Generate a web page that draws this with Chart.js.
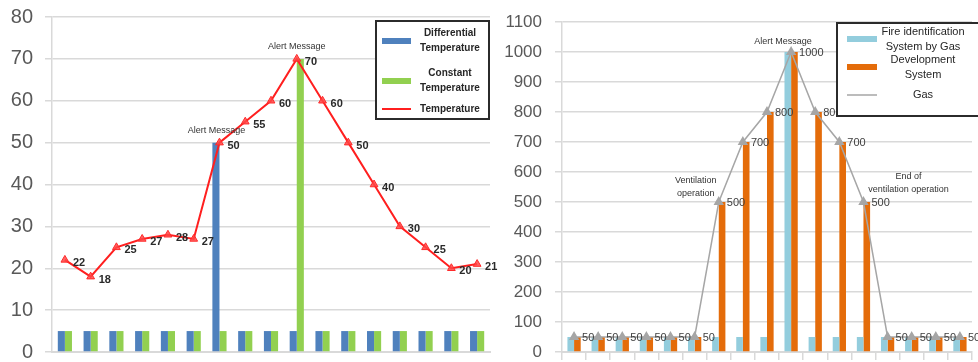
<!DOCTYPE html>
<html lang="en">
<head>
    <meta charset="UTF-8">
    <title>Temperature / Gas alert comparison</title>
    <script src="https://cdn.jsdelivr.net/npm/chart.js"></script>
    <style>
        body { margin: 0; background: #fff; }
        #wrap { display: flex; width: 978px; height: 362px; }
    </style>
</head>
<body>
<div id="wrap">
    <canvas id="tempChart" width="500" height="362"></canvas>
    <canvas id="gasChart" width="478" height="362"></canvas>
</div>
<script>
    // x categories (not labelled on the axes)
    var steps = ['1', '2', '3', '4', '5', '6', '7', '8', '9', '10', '11', '12', '13', '14', '15', '16', '17'];

    // left chart - temperature
    var differentialTemp = [5, 5, 5, 5, 5, 5, 50, 5, 5, 5, 5, 5, 5, 5, 5, 5, 5];
    var constantTemp = [5, 5, 5, 5, 5, 5, 5, 5, 5, 70, 5, 5, 5, 5, 5, 5, 5];
    var temperature = [22, 18, 25, 27, 28, 27, 50, 55, 60, 70, 60, 50, 40, 30, 25, 20, 21];
    var tempTicks = [0, 10, 20, 30, 40, 50, 60, 70, 80];
    var tempNotes = [
        { index: 6, text: ['Alert Message'] },
        { index: 9, text: ['Alert Message'] }
    ];
    var tempLegend = [
        { text: ['Differential', 'Temperature'], kind: 'bar' },
        { text: ['Constant', 'Temperature'], kind: 'bar' },
        { text: ['Temperature'], kind: 'line' }
    ];

    // right chart - gas
    var fireIdGas = [50, 50, 50, 50, 50, 50, 50, 50, 50, 1000, 50, 50, 50, 50, 50, 50, 50];
    var devSystem = [50, 50, 50, 50, 50, 50, 500, 700, 800, 1000, 800, 700, 500, 50, 50, 50, 50];
    var gas = [50, 50, 50, 50, 50, 50, 500, 700, 800, 1000, 800, 700, 500, 50, 50, 50, 50];
    var gasTicks = [0, 100, 200, 300, 400, 500, 600, 700, 800, 900, 1000, 1100];
    var gasNotes = [
        { index: 6, text: ['Ventilation', 'operation'] },
        { index: 9, text: ['Alert Message'] },
        { index: 12, text: ['End of', 'ventilation operation'] }
    ];
    var gasLegend = [
        { text: ['Fire identification', 'System by Gas'], kind: 'bar' },
        { text: ['Development', 'System'], kind: 'bar' },
        { text: ['Gas'], kind: 'line' }
    ];

    Chart.defaults.font.family = '"Liberation Sans", Arial, sans-serif';
    Chart.defaults.animation = false;

    var gridColor = '#d9d9d9';

    // value labels next to the line points + small notes above them
    function labelPlugin(opts) {
        return {
            id: 'pointLabels',
            afterDatasetsDraw: function(chart) {
                var ctx = chart.ctx;
                var meta = chart.getDatasetMeta(opts.lineIndex);
                var values = chart.data.datasets[opts.lineIndex].data;
                ctx.save();
                ctx.font = opts.labelFont;
                ctx.fillStyle = opts.labelColor;
                ctx.textAlign = 'left';
                ctx.textBaseline = 'middle';
                meta.data.forEach(function(pt, i) {
                    ctx.fillText(String(values[i]), pt.x + opts.labelDx, pt.y + opts.labelDy);
                });
                ctx.font = opts.noteFont;
                ctx.fillStyle = '#333';
                ctx.textAlign = 'center';
                opts.notes.forEach(function(note, n) {
                    var pt = meta.data[note.index];
                    var off = opts.noteOffsets[n];
                    note.text.forEach(function(line, k) {
                        ctx.fillText(line, pt.x + off[0], pt.y + off[1] + k * 12.5);
                    });
                });
                ctx.restore();
            }
        };
    }

    // boxed legend drawn inside the plot (like the spreadsheet original)
    function legendPlugin(opts) {
        return {
            id: 'boxLegend',
            afterDraw: function(chart) {
                var ctx = chart.ctx;
                var b = opts.box;
                ctx.save();
                ctx.fillStyle = '#fff';
                ctx.fillRect(b.x, b.y, b.w, b.h);
                ctx.strokeStyle = '#2b2b2b';
                ctx.lineWidth = 2;
                ctx.strokeRect(b.x, b.y, b.w, b.h);
                ctx.font = opts.font;
                ctx.textAlign = 'center';
                ctx.textBaseline = 'middle';
                opts.items.forEach(function(item, i) {
                    var cy = opts.rows[i];
                    var ds = chart.data.datasets[i];
                    if (item.kind === 'bar') {
                        ctx.fillStyle = ds.backgroundColor;
                        ctx.fillRect(opts.swatchX, cy - 3, opts.swatchW, 6);
                    } else {
                        ctx.strokeStyle = ds.borderColor;
                        ctx.lineWidth = ds.borderWidth;
                        ctx.beginPath();
                        ctx.moveTo(opts.swatchX, cy);
                        ctx.lineTo(opts.swatchX + opts.swatchW, cy);
                        ctx.stroke();
                    }
                    ctx.fillStyle = '#262626';
                    var h = (item.text.length - 1) * opts.lineGap;
                    item.text.forEach(function(line, k) {
                        ctx.fillText(line, opts.textX, cy - h / 2 + k * opts.lineGap);
                    });
                });
                ctx.restore();
            }
        };
    }

    // y axis with a fixed width and no extra label overflow padding
    function fixY(width) {
        return function(s) {
            s.width = width;
            s.paddingTop = 0;
            s.paddingBottom = 0;
        };
    }

    new Chart(document.getElementById('tempChart'), {
        type: 'bar',
        data: {
            labels: steps,
            datasets: [{
                label: 'Differential Temperature',
                data: differentialTemp,
                backgroundColor: '#4f81bd',
                categoryPercentage: 0.55,
                barPercentage: 1,
                order: 1
            }, {
                label: 'Constant Temperature',
                data: constantTemp,
                backgroundColor: '#92d050',
                categoryPercentage: 0.55,
                barPercentage: 1,
                order: 1
            }, {
                type: 'line',
                label: 'Temperature',
                data: temperature,
                borderColor: '#ff1f1f',
                borderWidth: 2,
                pointStyle: 'triangle',
                pointRadius: 4.5,
                pointBackgroundColor: 'rgba(255, 70, 70, 0.85)',
                pointBorderColor: '#ff2a2a',
                pointBorderWidth: 1,
                order: 0
            }]
        },
        options: {
            responsive: false,
            layout: { padding: { top: 17, right: 10, left: 0, bottom: 0 } },
            plugins: { legend: { display: false }, tooltip: { enabled: false } },
            scales: {
                x: {
                    ticks: { display: false },
                    grid: { drawOnChartArea: false, drawTicks: false },
                    border: { color: gridColor, width: 2 },
                    afterFit: function(s) { s.height = 10; }
                },
                y: {
                    min: tempTicks[0],
                    max: tempTicks[tempTicks.length - 1],
                    afterBuildTicks: function(s) { s.ticks = tempTicks.map(function(v) { return { value: v }; }); },
                    ticks: { font: { size: 20 }, color: '#595959', padding: 12, callback: function(v) { return String(v); } },
                    grid: { color: gridColor, lineWidth: 1.5, tickLength: 7 },
                    border: { color: gridColor, width: 1.5 },
                    afterFit: fixY(52)
                }
            }
        },
        plugins: [
            labelPlugin({
                lineIndex: 2,
                labelFont: 'bold 11px "Liberation Sans", Arial, sans-serif',
                labelColor: '#2a2a2a',
                labelDx: 8, labelDy: 3,
                noteFont: '9px "Liberation Sans", Arial, sans-serif',
                notes: tempNotes,
                noteOffsets: [[-3, -12], [0, -12]]
            }),
            legendPlugin({
                box: { x: 376, y: 21, w: 113, h: 98 },
                items: tempLegend,
                rows: [41, 81, 109],
                swatchX: 382, swatchW: 29,
                textX: 450,
                lineGap: 15,
                font: 'bold 10px "Liberation Sans", Arial, sans-serif'
            })
        ]
    });

    new Chart(document.getElementById('gasChart'), {
        type: 'bar',
        data: {
            labels: steps,
            datasets: [{
                label: 'Fire identification System by Gas',
                data: fireIdGas,
                backgroundColor: '#93cddd',
                categoryPercentage: 0.55,
                barPercentage: 1,
                order: 1
            }, {
                label: 'Development System',
                data: devSystem,
                backgroundColor: '#e46c0a',
                categoryPercentage: 0.55,
                barPercentage: 1,
                order: 1
            }, {
                type: 'line',
                label: 'Gas',
                data: gas,
                borderColor: '#a6a6a6',
                borderWidth: 1.5,
                pointStyle: 'triangle',
                pointRadius: 4.5,
                pointBackgroundColor: '#a6a6a6',
                pointBorderColor: '#a6a6a6',
                order: 0
            }]
        },
        options: {
            responsive: false,
            layout: { padding: { top: 22, right: 0, left: 0, bottom: 0 } },
            plugins: { legend: { display: false }, tooltip: { enabled: false } },
            scales: {
                x: {
                    ticks: { display: false },
                    grid: { drawOnChartArea: false, drawTicks: true, tickLength: 8, color: gridColor, lineWidth: 1.5 },
                    border: { color: gridColor, width: 2 },
                    afterFit: function(s) { s.height = 10; }
                },
                y: {
                    min: gasTicks[0],
                    max: gasTicks[gasTicks.length - 1],
                    afterBuildTicks: function(s) { s.ticks = gasTicks.map(function(v) { return { value: v }; }); },
                    ticks: { font: { size: 17 }, color: '#595959', padding: 13, callback: function(v) { return String(v); } },
                    grid: { color: gridColor, lineWidth: 1.5, tickLength: 7 },
                    border: { color: gridColor, width: 1.5 },
                    afterFit: fixY(62)
                }
            }
        },
        plugins: [
            labelPlugin({
                lineIndex: 2,
                labelFont: '11px "Liberation Sans", Arial, sans-serif',
                labelColor: '#404040',
                labelDx: 8, labelDy: 1,
                noteFont: '9px "Liberation Sans", Arial, sans-serif',
                notes: gasNotes,
                noteOffsets: [[-23, -21], [-8, -10], [45, -25]]
            }),
            legendPlugin({
                box: { x: 337, y: 23, w: 145, h: 93 },
                items: gasLegend,
                rows: [39, 67, 95],
                swatchX: 347, swatchW: 30,
                textX: 423,
                lineGap: 15,
                font: '11px "Liberation Sans", Arial, sans-serif'
            })
        ]
    });
</script>
</body>
</html>
